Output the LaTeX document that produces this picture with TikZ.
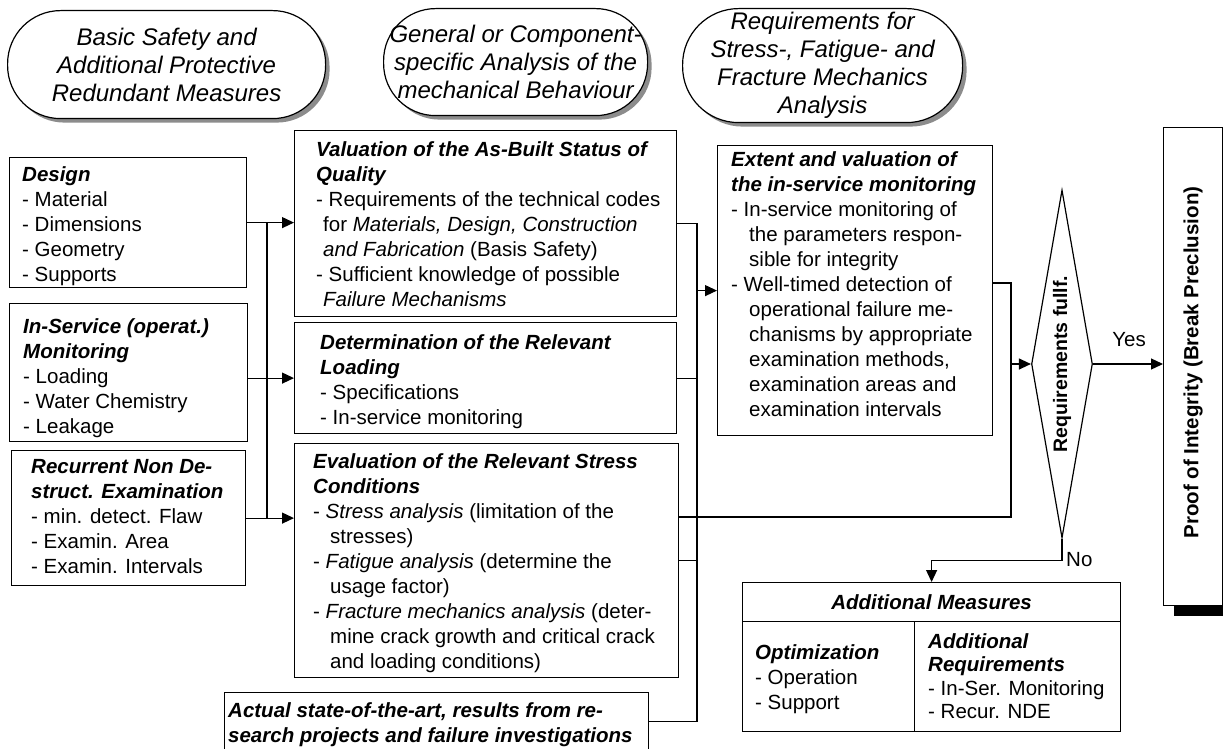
\documentclass[tikz,border=0pt]{standalone}
\usepackage{fontspec}
\setmainfont{Liberation Sans}
\usetikzlibrary{shapes.geometric,shadows,calc,arrows.meta}
\newcommand{\bi}[1]{\textbf{\textit{#1}}}
\begin{document}
\begin{tikzpicture}[x=1pt,y=-1pt,
  box/.style={draw, line width=1.2pt, inner sep=0pt, anchor=north west},
  txt/.style={anchor=north west, inner sep=0pt, align=left, font=\fontsize{20.5}{25}\selectfont},
  lbl/.style={inner sep=0pt, font=\fontsize{20.5}{25}\selectfont},
  oval/.style={draw, line width=1.2pt, inner sep=0pt, anchor=north west, fill=white,
     drop shadow={shadow xshift=4pt, shadow yshift=-4pt, fill=black!45, opacity=1}},
  otxt/.style={align=center, inner sep=0pt, font=\fontsize{24}{28}\selectfont\itshape},
  conn/.style={line width=1.2pt},
  arr/.style={line width=1.2pt, -{Triangle[length=12pt,width=11pt]}},
]
\path[fill=white] (0,0) rectangle (1223,749);
\useasboundingbox (0,0) rectangle (1223,749);

% top ovals
\node[oval, rounded corners=53pt, minimum width=318pt, minimum height=108pt] (e1) at (7,10) {};
\node[otxt] (e1t) at (e1.center) {Basic Safety and\\Additional Protective\\Redundant Measures};
\node[oval, rounded corners=52pt, minimum width=264pt, minimum height=107pt] (e2) at (383,8) {};
\node[otxt] (e2t) at (e2.center) {General or Component-\\specific Analysis of the\\mechanical Behaviour};
\node[oval, rounded corners=56pt, minimum width=280pt, minimum height=114pt] (e3) at (682,8) {};
\node[otxt] (e3t) at (e3.center) {Requirements for\\Stress-, Fatigue- and\\Fracture Mechanics\\Analysis};

% left boxes
\node[box, minimum width=237pt, minimum height=130pt] (design) at (9,157) {};
\node[txt] (designt) at (22,163.5) {\strut\bi{Design}\\- Material\\- Dimensions\\- Geometry\\- Supports};
\node[box, minimum width=238pt, minimum height=138pt] (inserv) at (9,303) {};
\node[txt] (inservt) at (23,315.5) {\strut\bi{In-Service (operat.)}\\\bi{Monitoring}\\- Loading\\- Water Chemistry\\- Leakage};
\node[box, minimum width=234pt, minimum height=135pt] (recur) at (11,450) {};
\node[txt] (recurt) at (31,455.5) {\strut\bi{Recurrent Non De-}\\\bi{struct. Examination}\\- min. detect. Flaw\\- Examin. Area\\- Examin. Intervals};

% middle boxes
\node[box, minimum width=382pt, minimum height=186pt] (valuation) at (294,130) {};
\node[txt] (valuationt) at (316,138.5) {\strut\bi{Valuation of the As-Built Status of}\\\bi{Quality}\\- Requirements of the technical codes\\\hspace*{7pt}for \textit{Materials, Design, Construction}\\\hspace*{7pt}\textit{and Fabrication} (Basis Safety)\\- Sufficient knowledge of possible\\\hspace*{7pt}\textit{Failure Mechanisms}};
\node[box, minimum width=382pt, minimum height=111pt] (determ) at (294,322) {};
\node[txt] (determt) at (320,331.5) {\strut\bi{Determination of the Relevant}\\\bi{Loading}\\- Specifications\\- In-service monitoring};
\node[box, minimum width=384pt, minimum height=234pt] (evalu) at (294,443) {};
\node[txt] (evalut) at (313,450.5) {\strut\bi{Evaluation of the Relevant Stress}\\\bi{Conditions}\\- \textit{Stress analysis} (limitation of the\\\hspace*{17pt}stresses)\\- \textit{Fatigue analysis} (determine the\\\hspace*{17pt}usage factor)\\- \textit{Fracture mechanics analysis} (deter-\\\hspace*{17pt}mine crack growth and critical crack\\\hspace*{17pt}and loading conditions)};
\node[box, minimum width=424pt, minimum height=58pt] (actual) at (224,692) {};
\node[txt] (actualt) at (228,699.5) {\strut\bi{Actual state-of-the-art, results from re-}\\\bi{search projects and failure investigations}};

% extent box
\node[box, minimum width=275pt, minimum height=290pt] (extent) at (717,145) {};
\node[txt] (extentt) at (731,148.5) {\strut\bi{Extent and valuation of}\\\bi{the in-service monitoring}\\- In-service monitoring of\\\hspace*{18pt}the parameters respon-\\\hspace*{18pt}sible for integrity\\- Well-timed detection of\\\hspace*{18pt}operational failure me-\\\hspace*{18pt}chanisms by appropriate\\\hspace*{18pt}examination methods,\\\hspace*{18pt}examination areas and\\\hspace*{18pt}examination intervals};

% decision
\node[draw, diamond, line width=1.2pt, minimum width=61pt, minimum height=348pt, inner sep=0pt, aspect=0.175] (diam) at (1062,364) {};
\node[lbl, rotate=90, font=\fontsize{19.5}{25}\selectfont\bfseries] (diamt) at (diam.center) {Requirements fullf.};

% proof box
\node[box, minimum width=59pt, minimum height=478pt, fill=white,
  drop shadow={shadow xshift=10pt, shadow yshift=-10pt, fill=black, opacity=1}] (proof) at (1163,127) {};
\node[lbl, rotate=90, font=\fontsize{20.5}{25}\selectfont\bfseries] (prooft) at ([yshift=4pt]proof.center) {Proof of Integrity (Break Preclusion)};

% additional measures
\node[box, minimum width=378pt, minimum height=39pt] (addhead) at (742,582) {};
\node[lbl] (addheadt) at (addhead.center) {\bi{Additional Measures}};
\node[box, minimum width=172pt, minimum height=110pt] (addopt) at (742,621) {};
\node[txt] (addoptt) at (755,641.5) {\strut\bi{Optimization}\\- Operation\\- Support};
\node[box, minimum width=206pt, minimum height=110pt] (addreq) at (914,621) {};
\node[txt, font=\fontsize{20.5}{23.5}\selectfont] (addreqt) at (928,631.5) {\strut\bi{Additional}\\\bi{Requirements}\\- In-Ser. Monitoring\\- Recur. NDE};

% connectors
\coordinate (bl) at (267,0);
\coordinate (br) at (697,0);
\coordinate (bd) at (1011,0);
\draw[arr] (design.east) -- (design.east -| valuation.west);
\draw[arr] (inserv.east |- determ.west) -- (determ.west);
\draw[arr] (recur.east) -- (recur.east -| evalu.west);
\draw[conn] (design.east -| bl) -- (recur.east -| bl);

\draw[conn] (valuation.east) -| (actual.east -| br) -- (actual.east);
\draw[conn] (determ.east) -- (determ.east -| br);
\draw[conn] (evalu.east) -- (evalu.east -| br);
\draw[arr] (extent.west -| br) -- (extent.west);

\draw[conn] ($(evalu.north east)+(0,74)$) -| (bd |- diam.west);
\draw[conn] ($(extent.north east)+(0,138)$) -| (bd |- diam.west);
\draw[arr] (bd |- diam.west) -- (diam.west);

\draw[arr] (diam.east) -- (diam.east -| proof.west);
\node[lbl] (yes) at (1129,340) {Yes};
\draw[arr] (diam.south) -- ++(0,22) -| (addhead.north);
\node[lbl, anchor=west] (no) at (1066,560) {No};
\end{tikzpicture}
\end{document}
